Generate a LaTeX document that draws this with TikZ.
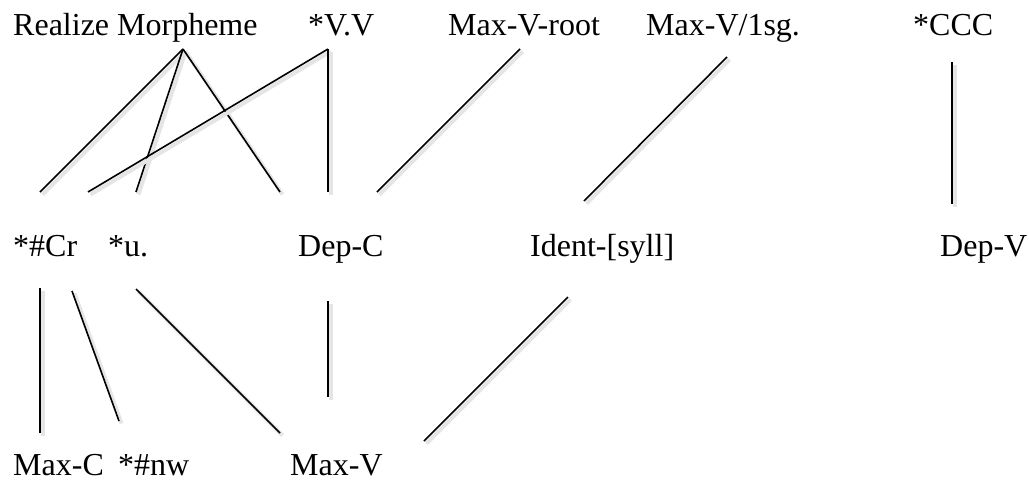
\documentclass[tikz,border=0pt]{standalone}
\usepackage{fontspec}
\setmainfont{Liberation Serif}
\usepackage{xcolor}

\begin{document}
\begin{tikzpicture}[x=1pt,y=-1pt,
    con/.style={anchor=base west,inner sep=0pt,font=\fontsize{32}{38}\selectfont},
    rank/.style={black,line width=1.6pt,line cap=butt,
      preaction={draw=black!10,line width=4pt,transform canvas={xshift=2.5pt,yshift=-2.5pt}}}]
    %frame
    \useasboundingbox (0,0) rectangle (1029,480);

    %constraints, top row
    \node[con] (RM) at (13,35) {Realize Morpheme};
    \node[con] (VV) at (308,35) {*V.V};
    \node[con] (MVroot) at (448,35) {Max-V-root};
    \node[con] (MVsg) at (646,35) {Max-V/1sg.};
    \node[con] (CCC) at (913,35) {*CCC};
    %middle row
    \node[con] (Cr) at (13,256) {*\#Cr};
    \node[con] (U) at (108,256) {*u.};
    \node[con] (DepC) at (298,256) {Dep-C};
    \node[con] (Ident) at (530,256) {Ident-[syll]};
    \node[con] (DepV) at (940,256) {Dep-V};
    %bottom row
    \node[con] (MaxC) at (13,475) {Max-C};
    \node[con] (Nw) at (118,475) {*\#nw};
    \node[con] (MaxV) at (290,475) {Max-V};

    %line ends
    \coordinate (RM-b) at (183,49);
    \coordinate (VV-b) at (328,49);
    \coordinate (MVroot-b) at (520,49);
    \coordinate (MVsg-b) at (727,57);
    \coordinate (CCC-b) at (952,62);
    \coordinate (Cr-t1) at (40,192);
    \coordinate (Cr-t2) at (88,192);
    \coordinate (U-t) at (136,192);
    \coordinate (DepC-t1) at (280,192);
    \coordinate (DepC-t2) at (328,192);
    \coordinate (DepC-t3) at (377,192);
    \coordinate (Ident-t) at (584,201);
    \coordinate (DepV-t) at (952,204);
    \coordinate (Cr-b1) at (40,288);
    \coordinate (Cr-b2) at (72,291);
    \coordinate (U-b) at (136,289);
    \coordinate (DepC-b) at (328,301);
    \coordinate (Ident-b) at (568,297);
    \coordinate (MaxC-t) at (40,433);
    \coordinate (Nw-t) at (119,421);
    \coordinate (MaxV-t1) at (280,433);
    \coordinate (MaxV-t2) at (328,397);
    \coordinate (MaxV-t3) at (424,441);

    %rankings
    \draw[rank] (RM-b) -- (Cr-t1);
    \draw[rank] (RM-b) -- (U-t);
    \draw[rank] (RM-b) -- (DepC-t1);
    \draw[rank] (VV-b) -- (Cr-t2);
    \draw[rank] (VV-b) -- (DepC-t2);
    \draw[rank] (MVroot-b) -- (DepC-t3);
    \draw[rank] (MVsg-b) -- (Ident-t);
    \draw[rank] (CCC-b) -- (DepV-t);
    \draw[rank] (Cr-b1) -- (MaxC-t);
    \draw[rank] (Cr-b2) -- (Nw-t);
    \draw[rank] (U-b) -- (MaxV-t1);
    \draw[rank] (DepC-b) -- (MaxV-t2);
    \draw[rank] (Ident-b) -- (MaxV-t3);
\end{tikzpicture}
\end{document}
